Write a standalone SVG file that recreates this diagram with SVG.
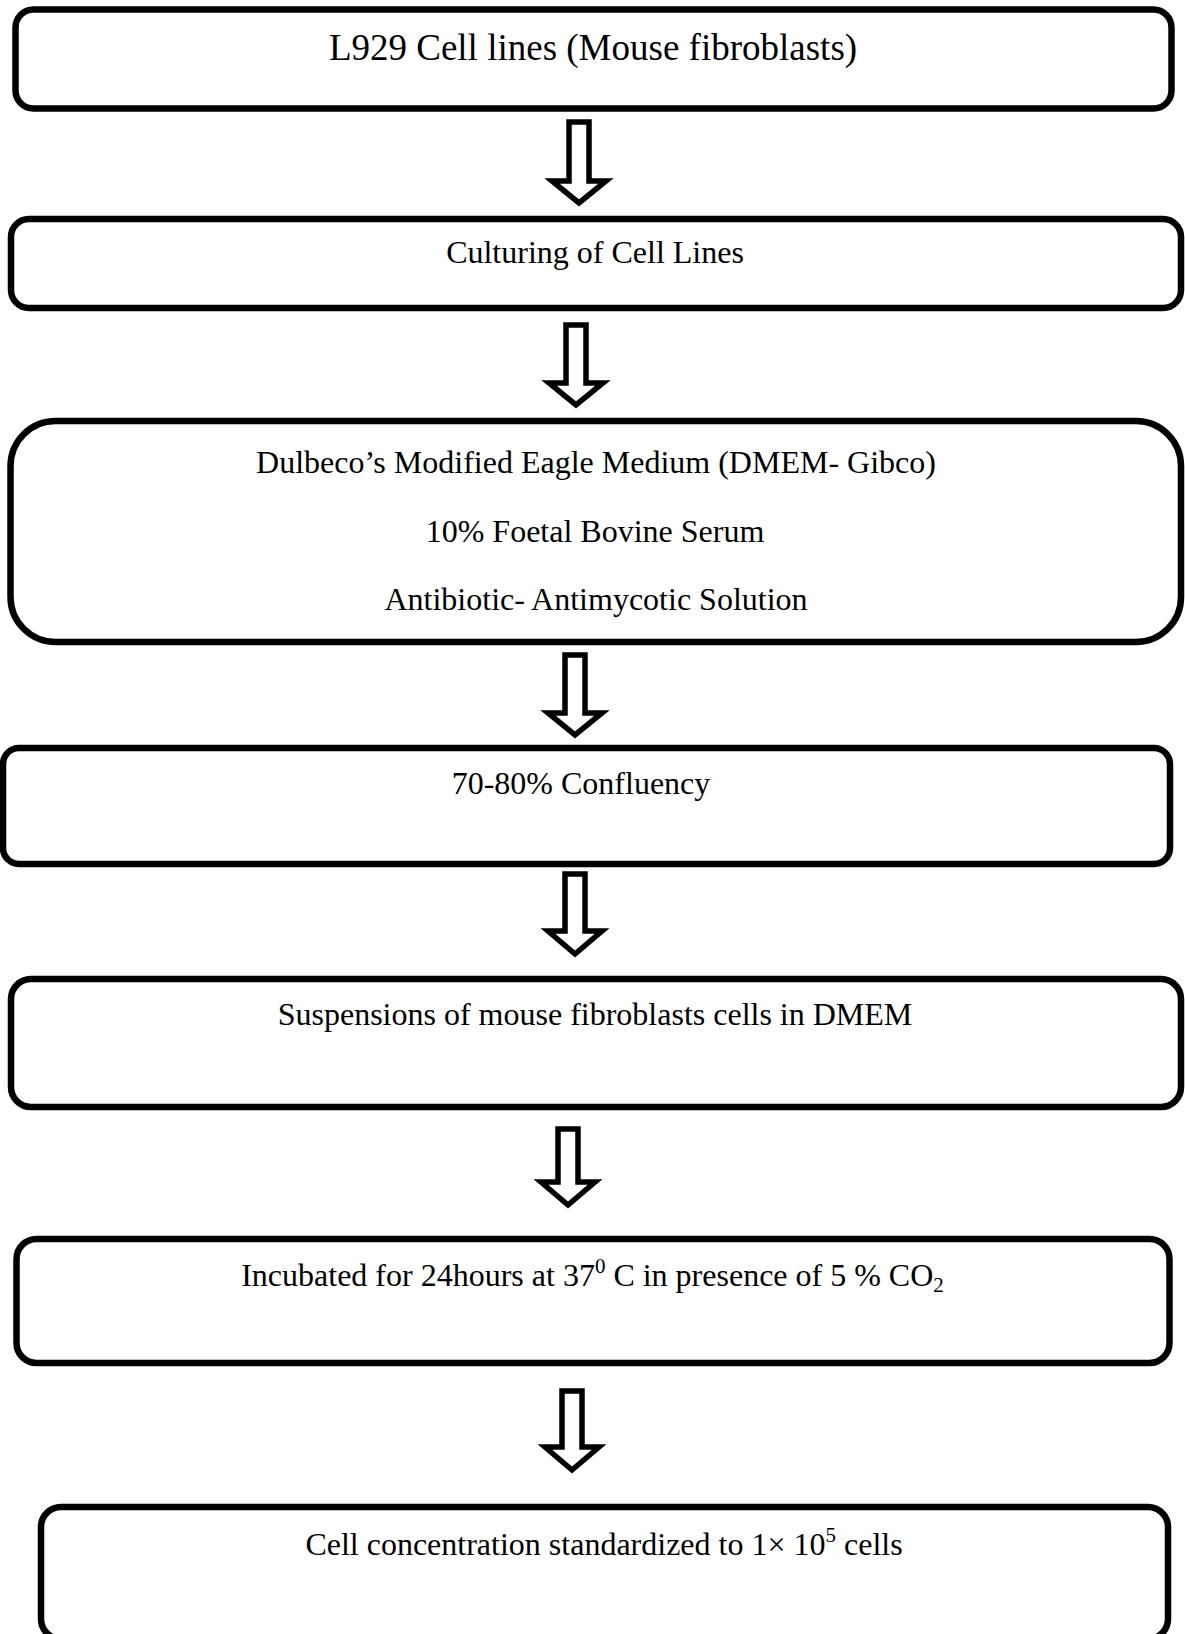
<svg xmlns="http://www.w3.org/2000/svg" width="1185" height="1634" viewBox="0 0 1185 1634">
<style>
.box{fill:#fff;stroke:#000;stroke-width:6.5}
.arr{fill:#fff;stroke:#000;stroke-width:5.5;stroke-linejoin:miter;stroke-miterlimit:10}
text{font-family:"Liberation Serif","Times New Roman",serif;font-size:32px;fill:#000;text-anchor:middle}
.title{font-size:37px}
.sm{font-size:21px}
</style>
<rect width="1185" height="1634" fill="#fff"/>
<g id="connectors">
<path class="arr" d="M569,122 H589 V181 H606 L579,203 L552,181 H569 Z"/>
<path class="arr" d="M566,325 H586 V383 H603 L576,405 L549,383 H566 Z"/>
<path class="arr" d="M565,655 H585 V713 H602 L575,735 L548,713 H565 Z"/>
<path class="arr" d="M565,874 H585 V931 H602 L575,954 L548,931 H565 Z"/>
<path class="arr" d="M558,1129 H578 V1182 H595 L568,1205 L541,1182 H558 Z"/>
<path class="arr" d="M562,1391 H582 V1447 H599 L572,1470 L545,1447 H562 Z"/>
</g>
<g id="node1">
<rect class="box" x="15.5" y="9.5" width="1156" height="99" rx="18"/>
<text class="title" x="593" y="60">L929 Cell lines (Mouse fibroblasts)</text>
</g>
<g id="node2">
<rect class="box" x="11" y="219" width="1170" height="89" rx="18"/>
<text x="595" y="263">Culturing of Cell Lines</text>
</g>
<g id="node3">
<rect class="box" x="10.5" y="421" width="1170.5" height="221" rx="45"/>
<text x="596" y="473">Dulbeco’s Modified Eagle Medium (DMEM- Gibco)</text>
<text x="595" y="542">10% Foetal Bovine Serum</text>
<text x="596" y="610">Antibiotic- Antimycotic Solution</text>
</g>
<g id="node4">
<rect class="box" x="3" y="748" width="1167" height="116" rx="16"/>
<text x="581" y="794">70-80% Confluency</text>
</g>
<g id="node5">
<rect class="box" x="11" y="979" width="1170" height="128" rx="20"/>
<text x="595" y="1025">Suspensions of mouse fibroblasts cells in DMEM</text>
</g>
<g id="node6">
<rect class="box" x="16.5" y="1239" width="1153" height="124" rx="20"/>
<text x="592.5" y="1286">Incubated for 24hours at 37<tspan class="sm" dy="-13">0</tspan><tspan dy="13"> C in presence of 5 % CO</tspan><tspan class="sm" dy="6">2</tspan></text>
</g>
<g id="node7">
<rect class="box" x="41" y="1507" width="1127" height="132" rx="20"/>
<text x="604" y="1555">Cell concentration standardized to 1× 10<tspan class="sm" dy="-13">5</tspan><tspan dy="13"> cells</tspan></text>
</g>
</svg>
